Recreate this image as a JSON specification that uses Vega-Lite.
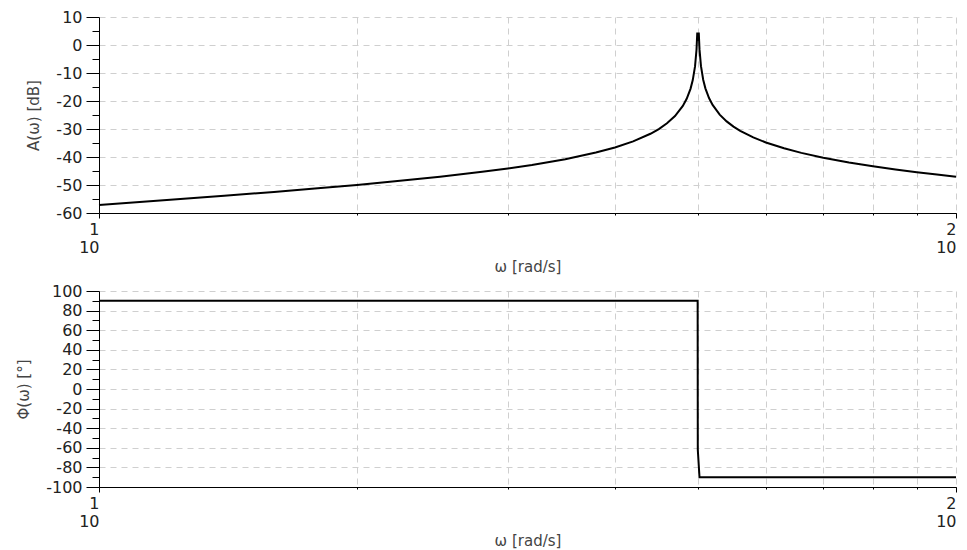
{
  "$schema": "https://vega.github.io/schema/vega-lite/v6.json",
  "padding": {"left": 16, "top": 9, "right": 2, "bottom": 1},
  "background": "white",
  "datasets": {
    "mag": [
      {"w": 10, "a": -57.15}, {"w": 12, "a": -55.40}, {"w": 14, "a": -53.87}, {"w": 16, "a": -52.48},
      {"w": 18, "a": -51.19}, {"w": 20, "a": -49.97}, {"w": 22, "a": -48.78}, {"w": 25, "a": -47.04},
      {"w": 28, "a": -45.29}, {"w": 30, "a": -44.08}, {"w": 32, "a": -42.82}, {"w": 35, "a": -40.77},
      {"w": 38, "a": -38.42}, {"w": 40, "a": -36.59}, {"w": 42, "a": -34.41}, {"w": 44, "a": -31.70},
      {"w": 45, "a": -30.01}, {"w": 46, "a": -27.97}, {"w": 47, "a": -25.38}, {"w": 48, "a": -21.76},
      {"w": 48.5, "a": -19.22}, {"w": 49, "a": -15.65}, {"w": 49.3, "a": -12.53}, {"w": 49.6, "a": -7.64},
      {"w": 49.8, "a": -1.60}, {"w": 49.9, "a": 4.43}, {"w": 50.0, "a": 1.5}, {"w": 50.1, "a": 4.45},
      {"w": 50.2, "a": -1.57}, {"w": 50.4, "a": -7.57}, {"w": 50.7, "a": -12.41}, {"w": 51, "a": -15.48},
      {"w": 51.5, "a": -18.96}, {"w": 52, "a": -21.41}, {"w": 53, "a": -24.86}, {"w": 54, "a": -27.28},
      {"w": 55, "a": -29.14}, {"w": 56, "a": -30.65}, {"w": 58, "a": -33.00}, {"w": 60, "a": -34.81},
      {"w": 63, "a": -36.90}, {"w": 66, "a": -38.52}, {"w": 70, "a": -40.24}, {"w": 75, "a": -41.94},
      {"w": 80, "a": -43.30}, {"w": 85, "a": -44.44}, {"w": 90, "a": -45.42}, {"w": 95, "a": -46.28},
      {"w": 100, "a": -47.04}
    ],
    "phase": [
      {"i": 0, "w": 10, "p": 90}, {"i": 1, "w": 49.95, "p": 90}, {"i": 2, "w": 49.97, "p": -62},
      {"i": 3, "w": 50.2, "p": -90}, {"i": 4, "w": 100, "p": -90}
    ]
  },
  "config": {
    "view": {"stroke": null},
    "font": "DejaVu Sans",
    "axis": {
      "domainColor": "#000", "tickColor": "#000", "labelColor": "#222", "titleColor": "#444",
      "labelFont": "DejaVu Sans", "titleFont": "DejaVu Sans", "labelFontSize": 16, "titleFontSize": 15,
      "titleFontWeight": "normal", "gridColor": "#cfcfcf", "gridDash": [6, 5], "gridWidth": 1
    }
  },
  "spacing": 9,
  "vconcat": [
    {
      "width": 857, "height": 196,
      "data": {"name": "mag"},
      "layer": [
        {
          "mark": {"type": "line", "color": "#000", "strokeWidth": 2},
          "encoding": {
            "x": {"field": "w", "type": "quantitative", "scale": {"type": "log", "domain": [10, 100], "nice": false},
              "axis": {"title": "ω [rad/s]", "values": [10, 100], "grid": false, "tickSize": 5,
                "labelExpr": "datum.value < 50 ? ['1', '10\u00a0\u00a0'] : ['2', '10\u00a0\u00a0']", "labelAlign": "right", "labelDx": 9,
                "labelLineHeight": 18, "labelPadding": 3, "titlePadding": 4}},
            "y": {"field": "a", "type": "quantitative", "scale": {"domain": [-60, 10], "nice": false},
              "axis": {"title": "A(ω) [dB]", "values": [-60, -50, -40, -30, -20, -10, 0, 10], "grid": true,
                "labelExpr": "toString(datum.value)",
                "tickSize": 13, "labelPadding": 4, "titlePadding": 14}}
          }
        },
        {
          "mark": {"type": "line", "opacity": 0},
          "encoding": {
            "x": {"field": "w", "type": "quantitative",
              "axis": {"title": null, "values": [20, 30, 40, 50, 60, 70, 80, 90, 100], "grid": true, "labels": false,
                "domain": false, "tickSize": 2, "orient": "bottom"}},
            "y": {"field": "a", "type": "quantitative",
              "axis": {"title": null, "values": [-55, -45, -35, -25, -15, -5, 5], "grid": false, "labels": false,
                "domain": false, "tickSize": 7, "orient": "left"}}
          }
        }
      ],
      "resolve": {"axis": {"x": "independent", "y": "independent"}}
    },
    {
      "width": 857, "height": 196,
      "data": {"name": "phase"},
      "layer": [
        {
          "mark": {"type": "line", "color": "#000", "strokeWidth": 2},
          "encoding": {
            "order": {"field": "i"},
            "x": {"field": "w", "type": "quantitative", "scale": {"type": "log", "domain": [10, 100], "nice": false},
              "axis": {"title": "ω [rad/s]", "values": [10, 100], "grid": false, "tickSize": 5,
                "labelExpr": "datum.value < 50 ? ['1', '10\u00a0\u00a0'] : ['2', '10\u00a0\u00a0']", "labelAlign": "right", "labelDx": 9,
                "labelLineHeight": 18, "labelPadding": 3, "titlePadding": 4}},
            "y": {"field": "p", "type": "quantitative", "scale": {"domain": [-100, 100], "nice": false},
              "axis": {"title": "Φ(ω) [°]", "values": [-100, -80, -60, -40, -20, 0, 20, 40, 60, 80, 100], "grid": true,
                "labelExpr": "toString(datum.value)",
                "tickSize": 13, "labelPadding": 4, "titlePadding": 14}}
          }
        },
        {
          "mark": {"type": "line", "opacity": 0},
          "encoding": {
            "order": {"field": "i"},
            "x": {"field": "w", "type": "quantitative",
              "axis": {"title": null, "values": [20, 30, 40, 50, 60, 70, 80, 90, 100], "grid": true, "labels": false,
                "domain": false, "tickSize": 2, "orient": "bottom"}},
            "y": {"field": "p", "type": "quantitative",
              "axis": {"title": null, "values": [-90, -70, -50, -30, -10, 10, 30, 50, 70, 90], "grid": false, "labels": false,
                "domain": false, "tickSize": 7, "orient": "left"}}
          }
        }
      ],
      "resolve": {"axis": {"x": "independent", "y": "independent"}}
    }
  ]
}
